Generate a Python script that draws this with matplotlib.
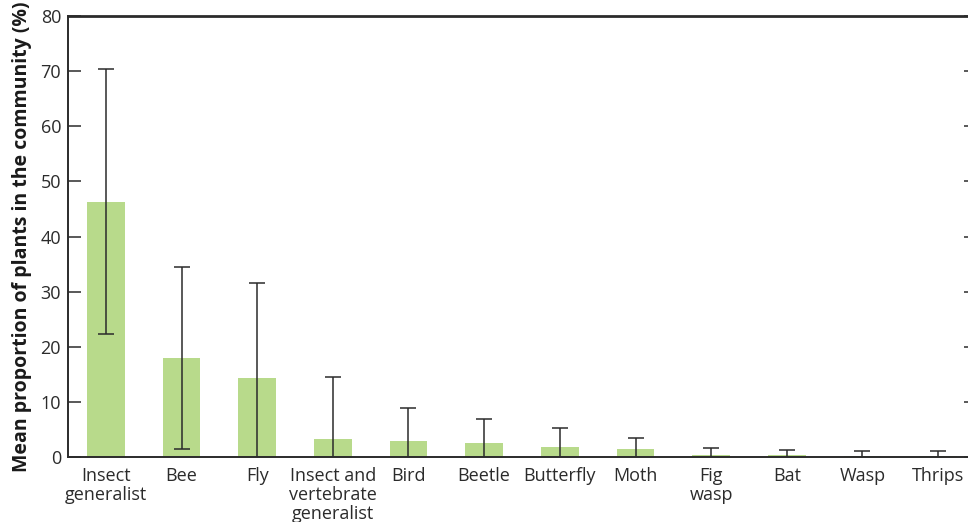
import matplotlib.pyplot as plt
import numpy as np

plt.rcParams['font.family'] = ['Open Sans', 'DejaVu Sans']

# pollinator groups, mean proportion (%) and error
groups = ['Insect\ngeneralist', 'Bee', 'Fly', 'Insect and\nvertebrate\ngeneralist',
          'Bird', 'Beetle', 'Butterfly', 'Moth', 'Fig\nwasp', 'Bat', 'Wasp', 'Thrips']
means  = [46.3, 18.0, 14.3, 3.3, 2.9, 2.5, 1.8, 1.45, 0.36, 0.36, 0.18, 0.18]
errors = [24.0, 16.5, 17.2, 11.2, 6.0, 4.4, 3.5, 2.05, 1.22, 0.85, 0.9, 0.85]

fig = plt.figure(figsize=(9.68, 5.22), dpi=100)
ax = fig.add_axes([68/968, 1 - 457/522, 908/968, 441/522])

x = np.arange(len(groups))
ax.bar(x, means, width=0.5, color='#b8da8b', zorder=1)
ax.errorbar(x, means, yerr=errors, fmt='none', ecolor='#2b2b2b',
            elinewidth=1.1, capsize=6, capthick=1.1, zorder=2)

ax.set_xlim(-0.5, 11.5)
ax.set_ylim(0, 80)
ax.set_yticks(np.arange(0, 81, 10))
ax.set_xticks(x)
ax.set_xticklabels(groups, fontsize=13, color='#2b2b2b', linespacing=1.08)
ax.tick_params(axis='x', length=0, pad=7)
ax.tick_params(axis='y', direction='in', length=9, width=1.1, right=True,
               labelsize=13, labelcolor='#2b2b2b', color='#2b2b2b', pad=5)

for s in ax.spines.values():
    s.set_color('#2b2b2b')
    s.set_linewidth(1.4)
ax.spines['top'].set_linewidth(2.0)

ax.set_ylabel('Mean proportion of plants in the community (%)', fontsize=14,
              fontweight='bold', color='#1a1a1a', labelpad=6)

fig.savefig('out.png', dpi=100)
